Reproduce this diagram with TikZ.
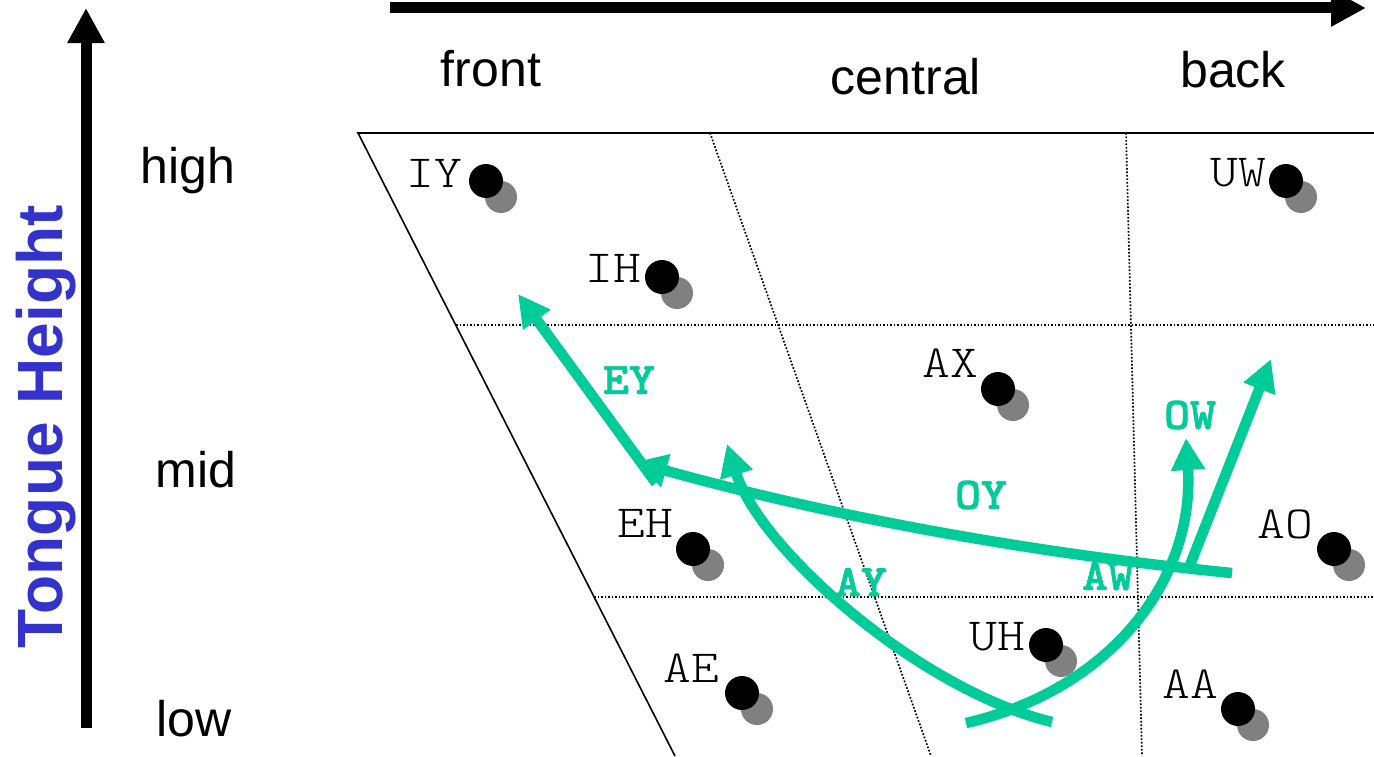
\documentclass[tikz,border=0pt]{standalone}
\usepackage{fontspec}
\setmainfont{Liberation Sans}
\newfontfamily\vmono[FakeStretch=1.15]{lmmonolt10-regular.otf}
\newfontfamily\gmono[FakeStretch=1.1,FakeBold=1.5]{lmmonolt10-bold.otf}
\usetikzlibrary{arrows.meta}
\definecolor{tblue}{RGB}{51,51,204}
\definecolor{tgreen}{RGB}{0,204,153}
\definecolor{dotgray}{RGB}{128,128,128}
\begin{document}
\begin{tikzpicture}[x=1bp,y=-1bp,
  axisarrow/.style={line width=11bp,-{Triangle[length=35bp,width=35bp]}},
  axislabel/.style={font=\fontsize{50bp}{60bp}\selectfont, anchor=base, inner sep=0},
  vlabel/.style={font=\vmono\fontsize{46bp}{50bp}\selectfont, anchor=base east, inner sep=0},
  glabel/.style={font=\gmono\fontsize{45bp}{50bp}\selectfont, text=tgreen, inner sep=0},
  gridline/.style={line width=1.7bp, dash pattern=on 1.7bp off 1.8bp},
  chartedge/.style={line width=1.6bp},
  glide/.style={draw=tgreen, line width=10.5bp},
  glidearrow/.style={glide, -{Triangle[length=32bp,width=32bp]}},
  vdot/.style={circle, fill=black, minimum size=34bp, inner sep=0},
  vshadow/.style={circle, fill=dotgray, minimum size=32bp, inner sep=0},
]
\useasboundingbox (0,0) rectangle (1374,756);

% axes
\coordinate (vb) at (86,728);
\coordinate (vt) at (86,8);
\coordinate (hl) at (390,8);
\coordinate (hr) at (1366,8);
\draw[axisarrow] (vb) -- (vt);
\draw[axisarrow] (hl) -- (hr);

\node[rotate=90, anchor=base, inner sep=0, text=tblue,
      font=\bfseries\fontsize{64bp}{70bp}\selectfont] (th) at (62,427) {Tongue Height};

\node[axislabel] (front) at (491,86) {front};
\node[axislabel] (central) at (906,94) {central};
\node[axislabel] (back) at (1233,87) {back};
\node[axislabel] (high) at (188,183) {high};
\node[axislabel] (mid) at (196,487) {mid};
\node[axislabel] (low) at (194,736) {low};

% chart frame
\coordinate (tl) at (358,133);
\coordinate (tr) at (1374,133);
\coordinate (bl) at (675,756);
\coordinate (m1l) at (456,325);
\coordinate (m1r) at (1374,325);
\coordinate (m2l) at (594,597);
\coordinate (m2r) at (1374,597);
\coordinate (c1t) at (710,133);
\coordinate (c1b) at (931,756);
\coordinate (c2t) at (1126,133);
\coordinate (c2b) at (1142,756);
\draw[gridline] (m1l) -- (m1r);
\draw[gridline] (m2l) -- (m2r);
\draw[gridline] (c1t) -- (c1b);
\draw[gridline] (c2t) -- (c2b);
\draw[chartedge] (tr) -- (tl) -- (bl);

% vowels
\foreach \n/\x/\y/\lx/\ly/\t in {
  iy/486/181/462/187/IY,
  ih/662/277/641/282/IH,
  uw/1286/181/1266/186/UW,
  ax/998/389/978/377/AX,
  eh/693/549/673/537/EH,
  ao/1334/549/1313/538/AO,
  uh/1046/645/1025/650/UH,
  ae/742/693/719/682/AE,
  aa/1238/709/1218/698/AA} {
  \node[vshadow] (\n-s) at (\x+15,\y+16) {};
  \node[vdot] (\n) at (\x,\y) {};
  \node[vlabel] (\n-l) at (\lx,\ly) {\t};
}

% glides
\coordinate (eys) at (656,483);
\coordinate (eye) at (518,294);
\coordinate (oys) at (1232,573);
\coordinate (oye) at (635,462);
\coordinate (ays) at (1052,722);
\coordinate (aye) at (727,444);
\coordinate (aws) at (966,723);
\coordinate (awe) at (1186,438);
\coordinate (ows) at (1190,565);
\coordinate (owe) at (1271,359);

\draw[glidearrow] (eys) -- (eye);
\draw[glidearrow] (oys) .. controls (1000,550) and (800,508) .. (oye);
\draw[glidearrow] (ays) .. controls (920,690) and (760,550) .. (aye);
\draw[glidearrow] (aws) .. controls (1110,690) and (1195,580) .. (awe);
\draw[glidearrow] (ows) -- (owe);

\node[glabel] (eyl) at (629,380) {EY};
\node[glabel] (oyl) at (981,495) {OY};
\node[glabel] (awl) at (1108,576) {AW};
\node[glabel] (owl) at (1190,415) {OW};
\node[glabel] (ayl) at (861,582) {AY};
\end{tikzpicture}
\end{document}
